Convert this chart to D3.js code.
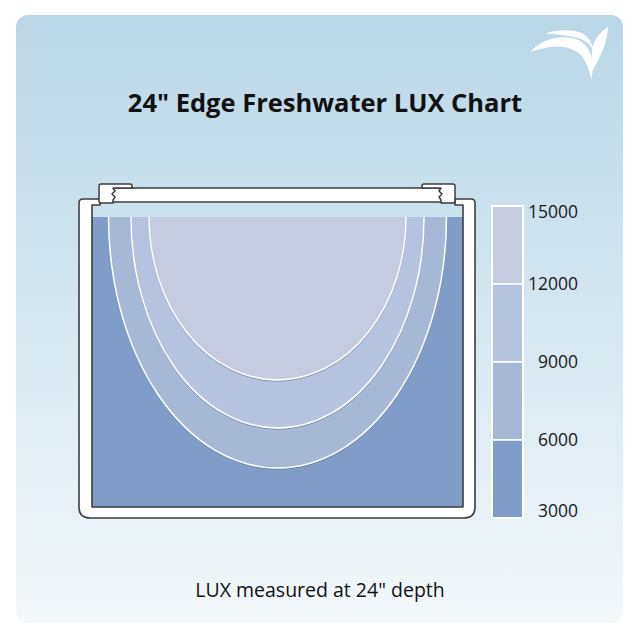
<!DOCTYPE html>
<html>
<head>
<meta charset="utf-8">
<script src="https://cdn.jsdelivr.net/npm/d3@7"></script>
<style>
  html, body { margin: 0; padding: 0; background: #ffffff; }
  svg { display: block; }
</style>
</head>
<body>
<svg id="chart" width="640" height="640"></svg>
<script>
// ---- data ----
const title = "24\" Edge Freshwater LUX Chart";
const caption = "LUX measured at 24\" depth";
const legendTicks = [15000, 12000, 9000, 6000, 3000];
const legendBands = [[12000, 15000], [9000, 12000], [6000, 9000], [3000, 6000]];
const bandColors = ["#c6cce0", "#b5c3de", "#a7b8d6", "#809dc9"];
// light contours: the region inside each curve is brighter than its level
const contourLevels = [6000, 9000, 12000];
const contourHalfWidth = [10.93, 9.48, 8.31];   // inches from centre
const contourDepth = [16.24, 13.65, 10.54];     // inches below surface
const contourColors = ["#a7b8d6", "#b5c3de", "#c6cce0"];
const waterColor = "#809dc9";
const tankWidth = [-12, 12];    // inches
const tankDepth = [0, 18.76];   // inches

// ---- drawing ----
const svg = d3.select("#chart");
const defs = svg.append("defs");
const bg = defs.append("linearGradient").attr("id", "bg").attr("x1", 0).attr("y1", 0).attr("x2", 0).attr("y2", 1);
bg.append("stop").attr("offset", "0%").attr("stop-color", "#bad7e7");
bg.append("stop").attr("offset", "45%").attr("stop-color", "#d2e5ef");
bg.append("stop").attr("offset", "100%").attr("stop-color", "#f3f8fb");
const sh = defs.append("filter").attr("id", "sh").attr("x", "-10%").attr("y", "-10%").attr("width", "120%").attr("height", "120%");
sh.append("feDropShadow").attr("dx", 0).attr("dy", 1).attr("stdDeviation", 0.6).attr("flood-color", "#5a6f99").attr("flood-opacity", 0.6);

svg.append("rect").attr("x", 16).attr("y", 15).attr("width", 607).attr("height", 608).attr("rx", 12).attr("fill", "url(#bg)");

// logo
const logo = svg.append("g").attr("fill", "#ffffff");
logo.append("path").attr("d", "M530.5,52 C539,41 556,35 572,38 C583,40 590,48 592,60 C593,67 592.5,73 591.5,79 C589,70 586,61 581,55 C574,48 562,45 550,47 C543,48 536,50 530.5,52 Z");
logo.append("path").attr("d", "M545.5,33.5 C556,30 570,29 580.5,32.5 C588,35.5 592,43 593.5,50 C590,44 585,40 578.5,38 C570,35.5 558,34.5 545.5,33.5 Z");
logo.append("path").attr("d", "M608,27 C607.5,35 605.5,46 601,54 C598,61 595,66 592.5,71 C591.5,63 590.5,53 594,43 C597,36 602,31 608,27 Z");

// title
svg.append("text").attr("x", 325).attr("y", 112).attr("text-anchor", "middle")
  .attr("font-family", "'Open Sans', sans-serif").attr("font-weight", 700).attr("font-size", 25.5)
  .attr("fill", "#111").text(title);

// scales
const x = d3.scaleLinear().domain(tankWidth).range([92, 463]);
const y = d3.scaleLinear().domain(tankDepth).range([217, 507]);

// water
svg.append("rect").attr("x", x(tankWidth[0])).attr("y", y(0))
  .attr("width", x(tankWidth[1]) - x(tankWidth[0])).attr("height", y(tankDepth[1]) - y(0))
  .attr("fill", waterColor);

// contours (half ellipses hanging from the surface)
contourLevels.forEach((lv, i) => {
  const a = contourHalfWidth[i], d = contourDepth[i];
  const rx = x(a) - x(0), ry = y(d) - y(0);
  const arc = `M${x(-a)},${y(0)} A${rx},${ry} 0 0 0 ${x(a)},${y(0)}`;
  svg.append("path").attr("d", arc + " Z").attr("fill", contourColors[i]);
  svg.append("path").attr("d", arc).attr("fill", "none").attr("stroke", "#ffffff")
    .attr("stroke-width", 1.5).attr("filter", "url(#sh)");
});

// tank frame
const frameStroke = "#3d3d3d";
svg.append("path")
  .attr("d", "M100,199 H83 Q79,199 79,203 V507 Q79,518 90,518 H464 Q475,518 475,507 V203 Q475,199 471,199 H455 V205 H463 V507 H92 V205 H100 Z")
  .attr("fill", "#ffffff").attr("stroke", frameStroke).attr("stroke-width", 1.6).attr("stroke-linejoin", "round");
// light fixture
svg.append("rect").attr("x", 112).attr("y", 188).attr("width", 330).attr("height", 14)
  .attr("fill", "#ffffff").attr("stroke", frameStroke).attr("stroke-width", 1.5);
svg.append("path")
  .attr("d", "M101,184 H130 Q132,184 132,186 V188 H113 L115,191 L112,194 L115,197 L113,200 V203 H101 Q99,203 99,201 V186 Q99,184 101,184 Z")
  .attr("fill", "#ffffff").attr("stroke", frameStroke).attr("stroke-width", 1.5).attr("stroke-linejoin", "round");
svg.append("path")
  .attr("d", "M453,184 H424 Q422,184 422,186 V188 H441 L439,191 L442,194 L439,197 L441,200 V203 H453 Q455,203 455,201 V186 Q455,184 453,184 Z")
  .attr("fill", "#ffffff").attr("stroke", frameStroke).attr("stroke-width", 1.5).attr("stroke-linejoin", "round");

// legend
const ly = d3.scaleLinear().domain([3000, 15000]).range([518, 206]);
const lg = svg.append("g");
lg.selectAll("rect.band").data(legendBands).join("rect").attr("class", "band")
  .attr("x", 492).attr("width", 31)
  .attr("y", d => ly(d[1])).attr("height", d => ly(d[0]) - ly(d[1]))
  .attr("fill", (d, i) => bandColors[i]).attr("stroke", "#ffffff").attr("stroke-width", 1.5);
lg.append("rect").attr("x", 492).attr("y", ly(15000)).attr("width", 31).attr("height", ly(3000) - ly(15000))
  .attr("fill", "none").attr("stroke", "#ffffff").attr("stroke-width", 2);
lg.selectAll("text").data(legendTicks).join("text")
  .attr("x", 578)
  .attr("y", d => d === 15000 ? ly(d) + 6 : d === 3000 ? ly(d) - 7 : ly(d))
  .attr("dy", "0.35em").attr("text-anchor", "end")
  .attr("font-family", "'Open Sans', sans-serif").attr("font-size", 17.5).attr("fill", "#1a1a1a")
  .text(d => d);

// caption
svg.append("text").attr("x", 320).attr("y", 597).attr("text-anchor", "middle")
  .attr("font-family", "'Open Sans', sans-serif").attr("font-size", 19.5).attr("fill", "#111").text(caption);
</script>
</body>
</html>
